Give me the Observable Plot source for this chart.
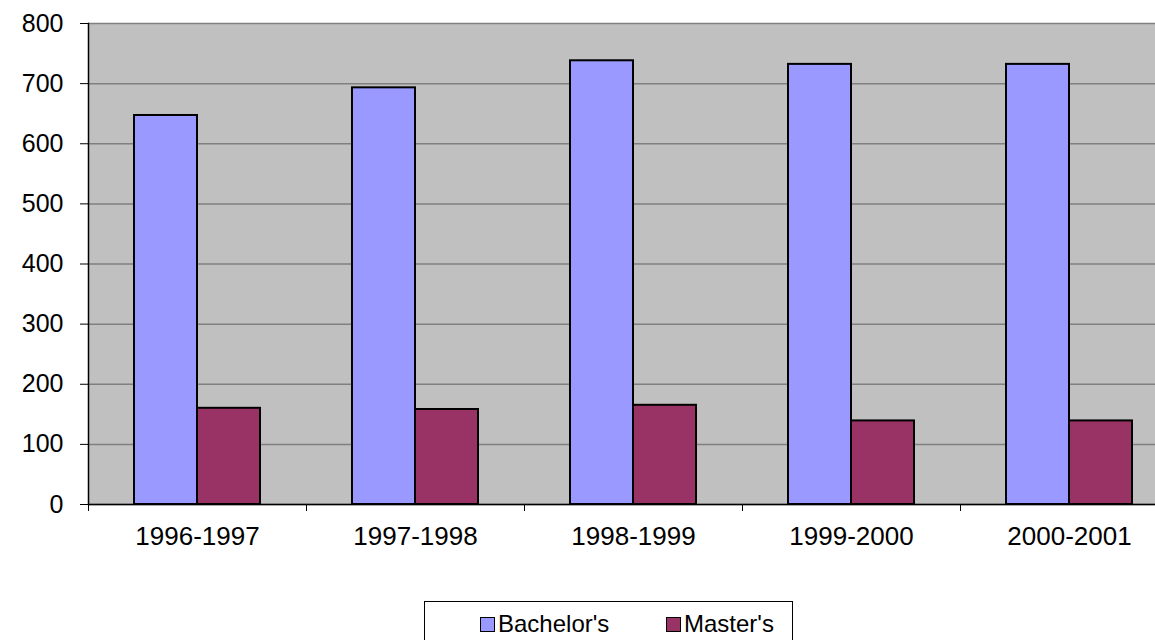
<!DOCTYPE html>
<html>
<head>
<meta charset="utf-8">
<script src="https://cdn.jsdelivr.net/npm/d3@7"></script>
<script src="https://cdn.jsdelivr.net/npm/@observablehq/plot@0.6"></script>
<style>
  html, body { margin: 0; padding: 0; background: #fff; }
  #wrap { position: relative; width: 1155px; height: 640px; overflow: hidden; font-family: "Liberation Sans", Arial, sans-serif; }
  #chart { position: absolute; left: 0; top: 0; width: 1178px; }
  #chart svg { max-width: none !important; }
  #legend { position: absolute; left: 424px; top: 601px; width: 369px; height: 60px; border: 1px solid #000; box-sizing: border-box; font-size: 24px; }
  .item { position: absolute; top: 8px; display: flex; align-items: center; }
  .sw { width: 13px; height: 13px; border: 1.5px solid #000; margin-right: 3px; }
</style>
</head>
<body>
<div id="wrap">
  <div id="chart"></div>
  <div id="legend"></div>
</div>
<script>
const years = ["1996-1997", "1997-1998", "1998-1999", "1999-2000", "2000-2001"];
const seriesNames = ["Bachelor's", "Master's"];
const bachelors = [647, 693, 738, 732, 732];
const masters = [160, 158, 165, 139, 139];
const colors = ["#9999ff", "#993366"];
const yTicks = [0, 100, 200, 300, 400, 500, 600, 700, 800];

const data = [];
years.forEach((yr, i) => {
  data.push({year: yr, series: seriesNames[0], value: bachelors[i]});
  data.push({year: yr, series: seriesNames[1], value: masters[i]});
});

const W = 1178, H = 585;
const chart = Plot.plot({
  width: W,
  height: H,
  marginLeft: 88,
  marginRight: 0,
  marginTop: 23,
  marginBottom: H - 504,
  style: {fontFamily: "Liberation Sans, Arial, sans-serif", fontSize: "25px", background: "transparent", overflow: "visible", maxWidth: "none"},
  fx: {domain: years, padding: 0, axis: null, label: null},
  x: {domain: seriesNames, paddingInner: 0, paddingOuter: 0.73, axis: null},
  y: {domain: [0, 800], axis: null},
  color: {domain: seriesNames, range: colors},
  marks: [
    Plot.frame({fill: "#c0c0c0", stroke: "#c0c0c0", strokeWidth: 1}),
    Plot.gridY(yTicks, {stroke: "#808080", strokeOpacity: 1, strokeWidth: 1.5}),
    Plot.barY(data, {fx: "year", x: "series", y: "value", fill: "series", stroke: "#000", strokeWidth: 2}),
    Plot.ruleY([0], {stroke: "#000", strokeWidth: 1.5}),
    Plot.frame({anchor: "left", facetAnchor: "left", stroke: "#000", strokeWidth: 1.5}),
    Plot.axisY({ticks: yTicks, tickSize: 8, tickPadding: 17, label: null}),
    Plot.axisFx({anchor: "bottom", tickSize: 0, tickPadding: 22, label: null, fontSize: 26}),
    Plot.axisFx({anchor: "bottom", tickSize: 7, tickFormat: () => "", label: null, dx: -109})
  ]
});
document.getElementById("chart").appendChild(chart);

const legend = document.getElementById("legend");
const lx = [55, 241];
seriesNames.forEach((s, i) => {
  const it = document.createElement("div");
  it.className = "item";
  it.style.left = lx[i] + "px";
  const sw = document.createElement("div");
  sw.className = "sw";
  sw.style.background = colors[i];
  const t = document.createElement("span");
  t.textContent = s;
  it.appendChild(sw);
  it.appendChild(t);
  legend.appendChild(it);
});
</script>
</body>
</html>
